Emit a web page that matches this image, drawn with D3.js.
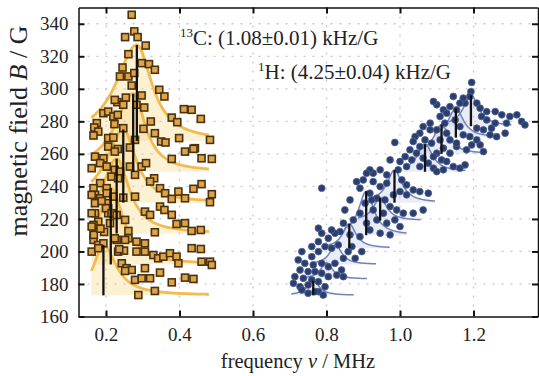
<!DOCTYPE html>
<html>
<head>
<meta charset="utf-8">
<script src="https://cdn.jsdelivr.net/npm/d3@7"></script>
<style>
  body { margin: 0; background: #fff; }
  svg { display: block; font-family: "Liberation Serif", "Times New Roman", serif; }
</style>
</head>
<body>
<script>
const W = 539, H = 376;

const xTicks = [0.2, 0.4, 0.6, 0.8, 1.0, 1.2];
const yTicks = [160, 180, 200, 220, 240, 260, 280, 300, 320, 340];

// 13C fits: [centre / MHz, baseline field / G, height / G, left width, right width]
const carbonFits = [
    [0.193, 173, 31, 0.032, 0.042],
    [0.213, 192, 47, 0.040, 0.042],
    [0.229, 211, 46, 0.050, 0.042],
    [0.247, 230, 45, 0.055, 0.042],
    [0.274, 249, 48, 0.060, 0.040],
    [0.284, 268, 59, 0.070, 0.050],
];
const carbonRange = [0.16, 0.48];

// 13C measured points: [frequency / MHz, field / G]
const carbonPoints = [
    [0.270,345.5],[0.252,331.8],[0.277,335.3],[0.286,331.8],[0.308,326.6],[0.261,321.3],[0.297,315.8],
    [0.317,315.2],[0.245,313.1],[0.333,311.7],[0.238,307.6],[0.261,307.6],[0.277,309.7],[0.270,302],
    [0.345,299.4],[0.359,295.3],[0.254,294.6],[0.297,295.9],[0.231,291.8],[0.247,290.2],[0.283,290.2],
    [0.304,288.5],[0.193,285],[0.206,286],[0.220,283],[0.232,284],[0.412,287.5],[0.433,287.1],
    [0.458,281.5],[0.379,282.3],[0.394,279.5],[0.322,279.9],[0.175,278.9],[0.168,276.2],[0.179,273.7],
    [0.166,271.3],[0.223,278.3],[0.247,275.8],[0.302,275.4],[0.333,272.7],[0.206,269.7],[0.220,270],
    [0.279,268.6],[0.350,267.6],[0.362,267],[0.399,269.7],[0.483,268.6],[0.442,263.5],[0.206,264.5],
    [0.232,263],[0.265,263.9],[0.224,293.2],
    [0.224,261.4],[0.170,258.3],[0.193,257.3],[0.184,254.3],[0.161,251.2],[0.202,252.2],
    [0.224,250.2],[0.238,249.1],[0.265,252.2],[0.297,252.2],[0.309,254.3],[0.379,256.9],[0.415,261.4],
    [0.438,263.1],[0.460,257.3],[0.488,256.9],[0.215,246],[0.233,245],[0.279,247.1],[0.331,245],
    [0.320,243],[0.184,242],[0.166,238.9],[0.202,238.9],[0.347,238.9],[0.361,235.8],[0.397,236.8],
    [0.438,238.5],[0.460,241.4],[0.488,235.2],[0.483,230.3],[0.379,232.3],[0.415,232.7],[0.279,233.7],
    [0.247,233.1],[0.170,234.8],[0.184,232.7],[0.170,229.7],[0.202,229.7],[0.206,226.6],[0.347,227.6],
    [0.359,225.5],[0.306,224.5],[0.320,222.5],[0.379,222.5],[0.170,223.5],[0.206,223.5],[0.179,218.3],
    [0.166,216.3],[0.252,219.4],[0.392,216.9],[0.415,217.4],[0.333,211.8],[0.433,212.6],[0.458,213.2],
    [0.166,210.2],[0.261,212.6],[0.261,208.1],[0.166,207.1],[0.229,207.1],[0.283,206],[0.306,205],
    [0.161,199.9],[0.179,204],[0.193,205],[0.233,199.9],[0.283,199.9],[0.306,199.9],[0.329,197.8],
    [0.342,195.8],[0.356,196.8],[0.374,198.9],[0.392,196.8],[0.433,202],[0.458,201.5],[0.460,193.7],
    [0.483,193.7],[0.488,191.7],[0.397,192.7],[0.243,192.7],[0.256,189.7],[0.270,188.6],[0.252,188],
    [0.306,189.7],[0.347,187],[0.279,182.5],[0.297,183.5],[0.320,183.5],[0.379,181],[0.415,183.9],
    [0.438,183.1],[0.288,173.2],[0.333,175.7],
    [0.161,234.8],[0.161,223.5],[0.161,215.3],[0.167,210.2],[0.179,202],[0.202,235.8],[0.220,233.7],
    [0.200,226.6],[0.215,223.5],[0.229,222.4],[0.211,217.4],[0.224,208.1],[0.252,207.1],[0.249,200.5],
    [0.236,201.4],[0.188,231],[0.195,212],[0.185,214],
];

// 1H fits: [centre / MHz, baseline field / G, height / G, width, peak marked]
const protonFits = [
    [0.764, 173,  9, 0.020, true],
    [0.800, 183, 10, 0.020, false],
    [0.825, 192, 12, 0.020, false],
    [0.862, 202, 15, 0.022, true],
    [0.908, 210, 27, 0.025, true],
    [0.946, 219, 14, 0.022, true],
    [0.985, 230, 20, 0.025, true],
    [1.068, 249, 17, 0.025, true],
    [1.113, 260, 18, 0.025, true],
    [1.152, 270, 18, 0.025, true],
    [1.193, 277, 19, 0.025, true],
];
const protonSpan = [-0.06, 0.11];

// 1H measured points: [frequency / MHz, field / G]
const protonPoints = [
    [1.195,303.9],[1.193,298.3],[1.190,295.3],[1.209,291.2],[1.218,288.1],[1.236,286],[1.259,286],
    [1.277,284],[1.299,283],[1.318,284],[1.331,279.9],[1.340,277.8],[1.290,278.9],[1.259,278.9],
    [1.236,280.9],[1.222,283],[1.177,291.2],[1.172,294.3],[1.163,291.2],[1.154,287.1],[1.145,295.3],
    [1.136,289.1],[1.118,287.1],[1.100,290.2],[1.091,292.2],[1.127,285],[1.109,283],[1.082,278.9],
    [1.063,276.8],[1.082,274.8],[1.054,272.7],[1.068,268.6],[1.041,270.6],[1.036,267.6],[1.054,264.5],
    [1.027,262.5],[1.045,260.4],[1.032,256.3],[1.063,257.4],[1.077,254.3],[1.091,251.2],[1.113,256.3],
    [1.127,255.3],[1.145,252.2],[1.163,251.2],[1.177,253.2],[1.136,260.4],[1.154,264.5],[1.181,262.5],
    [1.195,265.5],[1.218,265.5],[1.227,261.4],[1.209,268.6],[1.190,270.6],[1.172,271.7],[1.245,271.7],
    [1.263,270.6],[1.286,272.7],[1.249,275.8],[1.227,274.8],[1.209,275.8],[1.163,276.8],[1.150,280.9],
    [1.122,278.9],[1.127,272.7],[1.100,274.8],[1.109,268.6],[1.136,268.6],[1.154,266.6],[1.086,266.6],
    [1.118,263.5],[1.100,260.4],
    [0.986,267],[0.973,256.3],[1.014,258.3],[1.0,255.3],[1.091,258.3],[1.100,249.1],[1.118,250.2],
    [1.018,252.2],[1.054,252.2],[0.995,250.2],[0.964,247.1],[0.946,250.2],[0.927,248.1],[0.918,250.2],
    [1.005,244],[1.018,240.9],[1.036,237.8],[1.054,236.8],[1.077,235.8],[1.018,234.8],[1.0,236.8],
    [0.982,234.8],[0.964,242],[0.946,239.9],[0.927,242.9],[0.909,248.1],[0.900,244],[0.882,242.9],
    [0.864,231.7],[0.891,238.9],[0.918,235.8],[0.937,232.7],[0.959,231.7],[0.973,227.6],[0.991,225.5],
    [1.009,223.5],[1.036,223.5],[1.063,225.5],[0.955,223.5],[0.927,225.5],[0.937,219.4],[0.964,217.4],
    [0.986,219.4],[1.0,215.3],[0.891,223.5],[0.873,219.4],[0.909,217.4],[0.918,213.2],[0.946,211.2],
    [0.973,210.2],[0.850,225.5],[0.846,217.4],[0.837,212.2],[0.864,210.2],[0.891,209.1],
    [0.787,238.9],[0.778,214.3],[0.787,211.2],[0.805,208.1],[0.823,211.2],[0.814,213.2],[0.905,229.7],
    [0.923,231.7],[0.869,203],[0.896,199.9],[0.878,195.8],[0.859,199.9],[0.832,204],[0.814,202],
    [0.796,203],[0.778,199.9],[0.760,196.8],[0.733,199.9],[0.723,194.8],[0.741,192.7],[0.764,191.7],
    [0.787,192.7],[0.805,190.6],[0.823,192.7],[0.841,188.6],[0.846,184.5],[0.828,185.5],[0.805,184.5],
    [0.787,186.6],[0.769,187.6],[0.750,187.6],[0.728,188.6],[0.714,184.5],[0.737,183.5],[0.760,182.5],
    [0.778,181.4],[0.710,180.4],[0.728,178.3],[0.750,179.4],[0.796,178.3],[0.733,176.3],[0.778,175.3],
    [0.791,173.2],[0.750,174.3],[0.769,175.3],[0.846,195.8],[0.778,206],[0.760,203],
];

const plotLeft = 78.5, plotRight = 538, plotTop = 7.5, plotBottom = 316.5;
const serif = "'Liberation Serif', 'Times New Roman', serif";

const x = d3.scaleLinear().domain([0.1252, 1.3755]).range([plotLeft, plotRight]);
const y = d3.scaleLinear().domain([160, 350]).range([plotBottom, plotTop]);

const svg = d3.select("body").append("svg")
    .attr("width", W)
    .attr("height", H);

// dotted grid
const grid = svg.append("g")
    .attr("stroke", "#c8c8c8")
    .attr("stroke-width", 1.3)
    .attr("stroke-dasharray", "2,7");
grid.append("g").selectAll("line")
    .data(xTicks)
    .join("line")
        .attr("x1", d => x(d)).attr("x2", d => x(d))
        .attr("y1", plotTop).attr("y2", plotBottom);
grid.append("g").selectAll("line")
    .data(yTicks.slice(1))
    .join("line")
        .attr("y1", d => y(d)).attr("y2", d => y(d))
        .attr("x1", plotLeft).attr("x2", plotRight);

// lorentzian fit, possibly with different widths either side
const fitValue = (f, v) => {
    const w = v < f.v0 ? f.wL : f.wR;
    return f.b0 + f.a / (1 + ((v - f.v0) / w) ** 2);
};

const carbon = carbonFits.map(([v0, b0, a, wL, wR]) => ({ v0, b0, a, wL, wR, from: carbonRange[0], to: carbonRange[1] }));
const proton = protonFits.map(([v0, b0, a, w, mark]) => ({ v0, b0, a, wL: w, wR: w, mark, from: v0 + protonSpan[0], to: v0 + protonSpan[1] }));

const sample = f => {
    const vs = d3.range(f.from, f.to, 0.002).concat([f.to]);
    return vs.map(v => [v, fitValue(f, v)]);
};

const area = d3.area()
    .x(d => x(d[0]))
    .y1(d => y(d[1]))
    .curve(d3.curveMonotoneX);
const line = d3.line()
    .x(d => x(d[0]))
    .y(d => y(d[1]))
    .curve(d3.curveMonotoneX);

// 13C fills + curves
svg.append("g")
    .selectAll("path")
    .data(carbon)
    .join("path")
        .attr("fill", "#f8cf72")
        .attr("fill-opacity", 0.3)
        .attr("d", f => area.y0(y(f.b0))(sample(f)));
svg.append("g")
    .selectAll("path")
    .data(carbon)
    .join("path")
        .attr("fill", "none")
        .attr("stroke", "#f1b53f")
        .attr("stroke-width", 2.8)
        .attr("stroke-opacity", 0.9)
        .attr("d", f => line(sample(f)));

// 1H fills + curves
svg.append("g")
    .selectAll("path")
    .data(proton)
    .join("path")
        .attr("fill", "#c3c8e6")
        .attr("fill-opacity", 0.35)
        .attr("d", f => area.y0(y(f.b0))(sample(f)));
svg.append("g")
    .selectAll("path")
    .data(proton)
    .join("path")
        .attr("fill", "none")
        .attr("stroke", "#7283b8")
        .attr("stroke-width", 1.5)
        .attr("d", f => line(sample(f)));

// 13C squares
const sq = 7;
svg.append("g")
    .selectAll("rect")
    .data(carbonPoints)
    .join("rect")
        .attr("x", d => x(d[0]) - sq / 2)
        .attr("y", d => y(d[1]) - sq / 2)
        .attr("width", sq)
        .attr("height", sq)
        .attr("fill", "#dfa446")
        .attr("stroke", "#4a3210")
        .attr("stroke-width", 1.6);

// 1H dots
svg.append("g")
    .selectAll("circle")
    .data(protonPoints)
    .join("circle")
        .attr("cx", d => x(d[0]))
        .attr("cy", d => y(d[1]))
        .attr("r", 3.4)
        .attr("fill", "#2c3f6c")
        .attr("stroke", "#4c6299")
        .attr("stroke-width", 0.8);

// peak markers
svg.append("g")
    .attr("stroke", "#111")
    .attr("stroke-width", 2.3)
    .selectAll("line")
    .data(carbon.concat(proton.filter(f => f.mark)))
    .join("line")
        .attr("x1", f => x(f.v0)).attr("x2", f => x(f.v0))
        .attr("y1", f => y(f.b0)).attr("y2", f => y(f.b0 + f.a));

// axes, ticks pointing inward
const axisStyle = g => g
    .call(g => g.select(".domain").attr("stroke", "#111").attr("stroke-width", 1.5))
    .call(g => g.selectAll(".tick line").attr("stroke", "#111").attr("stroke-width", 2))
    .call(g => g.selectAll("text")
        .attr("font-family", serif)
        .attr("font-size", 19)
        .attr("fill", "#222"));

svg.append("g")
    .attr("transform", `translate(0,${plotBottom})`)
    .call(d3.axisBottom(x).tickValues(xTicks).tickFormat(d3.format(".1f"))
        .tickSize(-6).tickSizeOuter(0).tickPadding(11))
    .call(axisStyle);
svg.append("g")
    .attr("transform", `translate(0,${plotTop})`)
    .call(d3.axisTop(x).tickValues(xTicks).tickFormat("").tickSize(-6).tickSizeOuter(0))
    .call(axisStyle);
svg.append("g")
    .attr("transform", `translate(${plotLeft},0)`)
    .call(d3.axisLeft(y).tickValues(yTicks).tickFormat(d3.format("d"))
        .tickSize(-6).tickSizeOuter(0).tickPadding(10))
    .call(axisStyle);
svg.append("g")
    .attr("transform", `translate(${plotRight},0)`)
    .call(d3.axisRight(y).tickValues(yTicks).tickFormat("").tickSize(-6).tickSizeOuter(0))
    .call(axisStyle);

// axis titles
const xTitle = svg.append("text")
    .attr("x", 298)
    .attr("y", 368)
    .attr("text-anchor", "middle")
    .attr("font-family", serif)
    .attr("font-size", 20.5)
    .attr("fill", "#222");
xTitle.append("tspan").text("frequency ");
xTitle.append("tspan").attr("font-style", "italic").text("ν");
xTitle.append("tspan").text(" / MHz");

const yTitle = svg.append("text")
    .attr("transform", "translate(26.5,131) rotate(-90)")
    .attr("text-anchor", "middle")
    .attr("font-family", serif)
    .attr("font-size", 26)
    .attr("fill", "#222");
yTitle.append("tspan").text("magnetic field ");
yTitle.append("tspan").attr("font-style", "italic").text("B");
yTitle.append("tspan").text(" / G");

// slope annotations
const note = (tx, ty, iso, rest) => {
    const t = svg.append("text")
        .attr("x", tx).attr("y", ty)
        .attr("font-family", serif)
        .attr("font-size", 21)
        .attr("fill", "#222");
    t.append("tspan").attr("font-size", 13).attr("dy", -8).text(iso);
    t.append("tspan").attr("dy", 8).text(rest);
};
note(180, 45, "13", "C: (1.08±0.01) kHz/G");
note(258, 79, "1", "H: (4.25±0.04) kHz/G");
</script>
</body>
</html>
